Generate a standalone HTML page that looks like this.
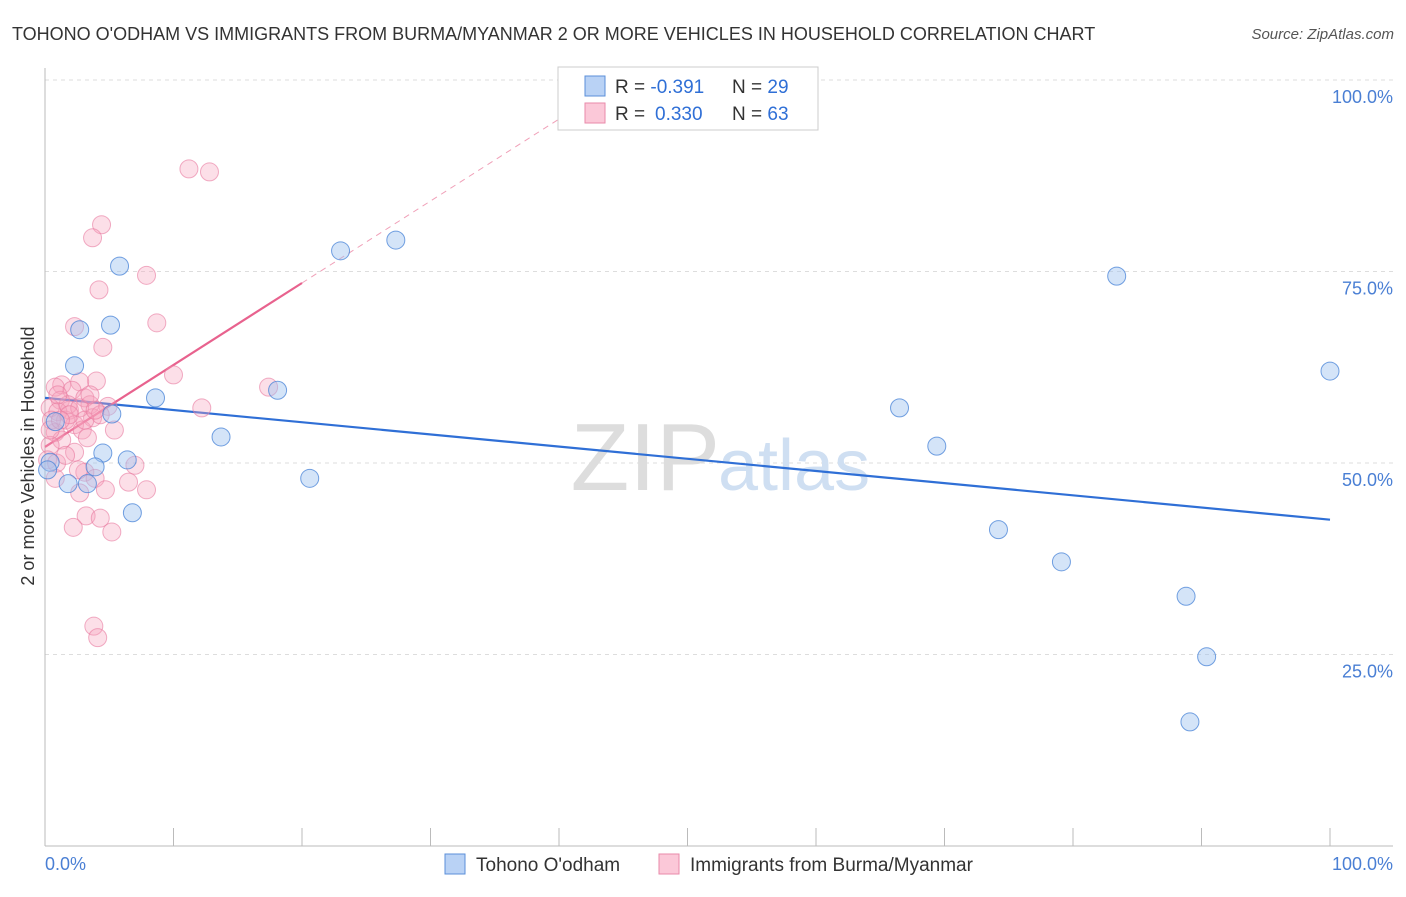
<!DOCTYPE html>
<html><head><meta charset="utf-8"><style>
body{margin:0;background:#fff;font-family:"Liberation Sans",sans-serif;}
svg text{font-family:"Liberation Sans",sans-serif;}
</style></head><body>
<svg id="chart" width="1406" height="892" viewBox="0 0 1406 892">
<text x="12" y="40" font-size="18" fill="#333">TOHONO O'ODHAM VS IMMIGRANTS FROM BURMA/MYANMAR 2 OR MORE VEHICLES IN HOUSEHOLD CORRELATION CHART</text>
<text x="1394" y="39" font-size="15" fill="#555" font-style="italic" text-anchor="end">Source: ZipAtlas.com</text>
<g id="grid"></g>
<text x="720" y="490" font-size="96" fill="#ddd" text-anchor="end" font-family="Liberation Serif">ZIP</text>
<text x="718" y="490" font-size="72" fill="#cfdff2">atlas</text>
<g id="lines"></g>
<g id="points"></g>
<text transform="translate(34,456) rotate(-90)" font-size="18" fill="#333" text-anchor="middle">2 or more Vehicles in Household</text>
<text x="45" y="870" font-size="18" fill="#4a7fd4">0.0%</text>
<text x="1393" y="870" font-size="18" fill="#4a7fd4" text-anchor="end">100.0%</text>
<g>
<rect x="558" y="67" width="260" height="63" fill="#fff" stroke="#ccc"/>
<rect x="585" y="76" width="20" height="20" fill="#b9d2f5" stroke="#5b8fd9"/>
<rect x="585" y="103" width="20" height="20" fill="#fbc8d8" stroke="#e88aaa"/>
<text x="615" y="93" font-size="19" fill="#333">R = <tspan fill="#2f6fd6">-0.391</tspan><tspan x="732">N = </tspan><tspan fill="#2f6fd6">29</tspan></text>
<text x="615" y="120" font-size="19" fill="#333">R = <tspan fill="#2f6fd6" x="655">0.330</tspan><tspan x="732">N = </tspan><tspan fill="#2f6fd6">63</tspan></text>
</g>
<g>
<rect x="445" y="854" width="20" height="20" fill="#b9d2f5" stroke="#5b8fd9"/>
<text x="476" y="871" font-size="19" fill="#333">Tohono O'odham</text>
<rect x="659" y="854" width="20" height="20" fill="#fbc8d8" stroke="#e88aaa"/>
<text x="690" y="871" font-size="19" fill="#333">Immigrants from Burma/Myanmar</text>
</g>
</svg>
<script>
const blueX=[2.7,2.3,5.1,5.8,23.0,27.3,8.6,5.2,0.8,13.7,4.5,6.4,3.9,0.4,1.8,3.3,6.8,20.6,18.1,66.5,69.4,83.4,100,74.2,79.1,88.8,90.4,89.1,0.2];
const blueY=[67.4,62.7,68.0,75.7,77.7,79.1,58.5,56.4,55.4,53.4,51.3,50.4,49.5,50.1,47.3,47.3,43.5,48.0,59.5,57.2,52.2,74.4,62.0,41.3,37.1,32.6,24.7,16.2,49.1];
const pinkX=[11.2,12.8,4.4,3.7,7.9,4.2,2.3,8.7,4.5,10.0,17.4,12.2,4.0,2.7,1.3,0.8,2.1,3.1,1.2,4.9,3.5,0.4,1.9,3.7,1.0,1.6,2.3,2.9,0.8,5.4,3.3,1.3,0.4,2.3,0.2,0.9,7.0,0.8,3.1,3.9,6.5,2.7,4.7,7.9,3.2,4.3,2.2,5.2,3.8,4.1,1.8,2.7,4.3,0.5,2.6,1.6,1.9,1.0,3.1,3.9,0.4,1.2,3.5];
const pinkY=[88.4,88.0,81.1,79.4,74.5,72.6,67.8,68.3,65.1,61.5,59.9,57.2,60.7,60.6,60.2,59.9,59.5,58.5,58.2,57.4,57.6,57.2,56.9,55.9,56.7,55.6,55.0,54.3,54.0,54.3,53.3,53.0,52.3,51.4,50.4,50.0,49.7,48.0,48.8,48.0,47.5,46.1,46.5,46.5,43.1,42.8,41.6,41.0,28.7,27.2,57.6,57.2,56.3,55.6,49.1,51.0,56.3,58.9,55.6,56.9,54.3,55.6,58.9];
const blueTrend=[58.5,42.6]; // value at x=0 and x=100
const pinkTrend=[52.1,1.07]; // intercept, slope
const yTicks=[100,75,50,25];
const yTickLabels=["100.0%","75.0%","50.0%","25.0%"];
const xTicks=[0,10,20,30,40,50,60,70,80,90,100];
const NS="http://www.w3.org/2000/svg";
const sx=v=>45+v*12.85, sy=v=>846-v*7.66;
function mk(tag,attrs,parent){const e=document.createElementNS(NS,tag);for(const k in attrs)e.setAttribute(k,attrs[k]);parent.appendChild(e);return e;}
const grid=document.getElementById('grid');
yTicks.forEach((t,i)=>{
 const l=mk('line',{x1:45,x2:1393,y1:sy(t),y2:sy(t),stroke:'#ddd','stroke-dasharray':'4,4'},grid);
 
 
 const tx=mk('text',{x:1393,y:sy(t)+23,'font-size':18,fill:'#4a7fd4','text-anchor':'end'},grid);
 tx.textContent=yTickLabels[i];
 
 
});
const ax=mk('line',{x1:45,x2:45,y1:68,y2:846,stroke:'#bbb'},grid);


const bx=mk('line',{x1:45,x2:1393,y1:846,y2:846,stroke:'#bbb'},grid);


xTicks.forEach(t=>{
 const l=mk('line',{x1:sx(t),x2:sx(t),y1:828,y2:846,stroke:'#bbb'},grid);
 
 
});
const lines=document.getElementById('lines');
const bl=mk('line',{x1:sx(0),y1:sy(blueTrend[0]),x2:sx(100),y2:sy(blueTrend[1]),stroke:'#2f6fd6','stroke-width':2.2},lines);


const pf=x=>pinkTrend[0]+pinkTrend[1]*x;
const pd=mk('line',{x1:sx(20),y1:sy(pf(20)),x2:sx(41.6),y2:sy(pf(41.6)),stroke:'#f0a0b8','stroke-width':1,'stroke-dasharray':'6,5'},lines);


const pl=mk('line',{x1:sx(0),y1:sy(pf(0)),x2:sx(20),y2:sy(pf(20)),stroke:'#e8628e','stroke-width':2.2},lines);


const pts=document.getElementById('points');
pinkX.forEach((x,i)=>{
 const c=mk('circle',{cx:sx(x),cy:sy(pinkY[i]),r:9,fill:'rgba(246,164,190,0.35)',stroke:'rgba(232,120,158,0.6)','stroke-width':1},pts);
 
 
});
blueX.forEach((x,i)=>{
 const c=mk('circle',{cx:sx(x),cy:sy(blueY[i]),r:9,fill:'rgba(160,196,240,0.45)',stroke:'rgba(70,130,215,0.75)','stroke-width':1},pts);
 
 
});
</script>
</body></html>
